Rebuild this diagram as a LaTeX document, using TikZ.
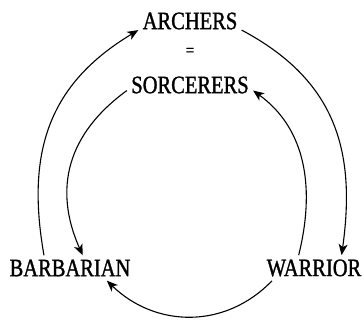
\documentclass[tikz,border=0pt]{standalone}
\usepackage{fontspec}
\newfontfamily\classfont[FakeStretch=0.82, FakeBold=1.2]{Liberation Serif}
\usetikzlibrary{arrows.meta}

\begin{document}
\begin{tikzpicture}[x=0.5pt, y=0.5pt,
    cls/.style={font=\classfont\fontsize{12.5}{14}\selectfont, inner sep=2pt},
    beats/.style={-{Stealth[length=5.5pt, width=4.5pt, inset=1.5pt]}, line width=0.55pt}]
    % Frame (same size as the reference)
    \useasboundingbox (0,0) rectangle (364,325);

    % Classes
    \node[cls] (arch) at (190, 304) {ARCHERS};
    \node[cls, font=\classfont\fontsize{9}{10}\selectfont] (eq) at (190, 273) {=};
    \node[cls] (sorc) at (190, 240) {SORCERERS};
    \node[cls] (bar) at (70, 57) {BARBARIAN};
    \node[cls] (war) at (314, 57) {WARRIOR};

    % Outer cycle
    \draw[beats] (bar.154) to[out=100, in=211, looseness=1.1] (arch.190);
    \draw[beats] (arch.-10) to[out=-28, in=82, looseness=1.1] (war.25);

    % Inner cycle
    \draw[beats] (sorc.185) to[out=216, in=114, looseness=1.1] (bar.45);
    \draw[beats] (war.140) to[out=76, in=-36] (sorc.-5);

    % Bottom
    \draw[beats] (war.197) to[out=226, in=-44, looseness=1.05] (bar.-19);

\end{tikzpicture}
\end{document}
